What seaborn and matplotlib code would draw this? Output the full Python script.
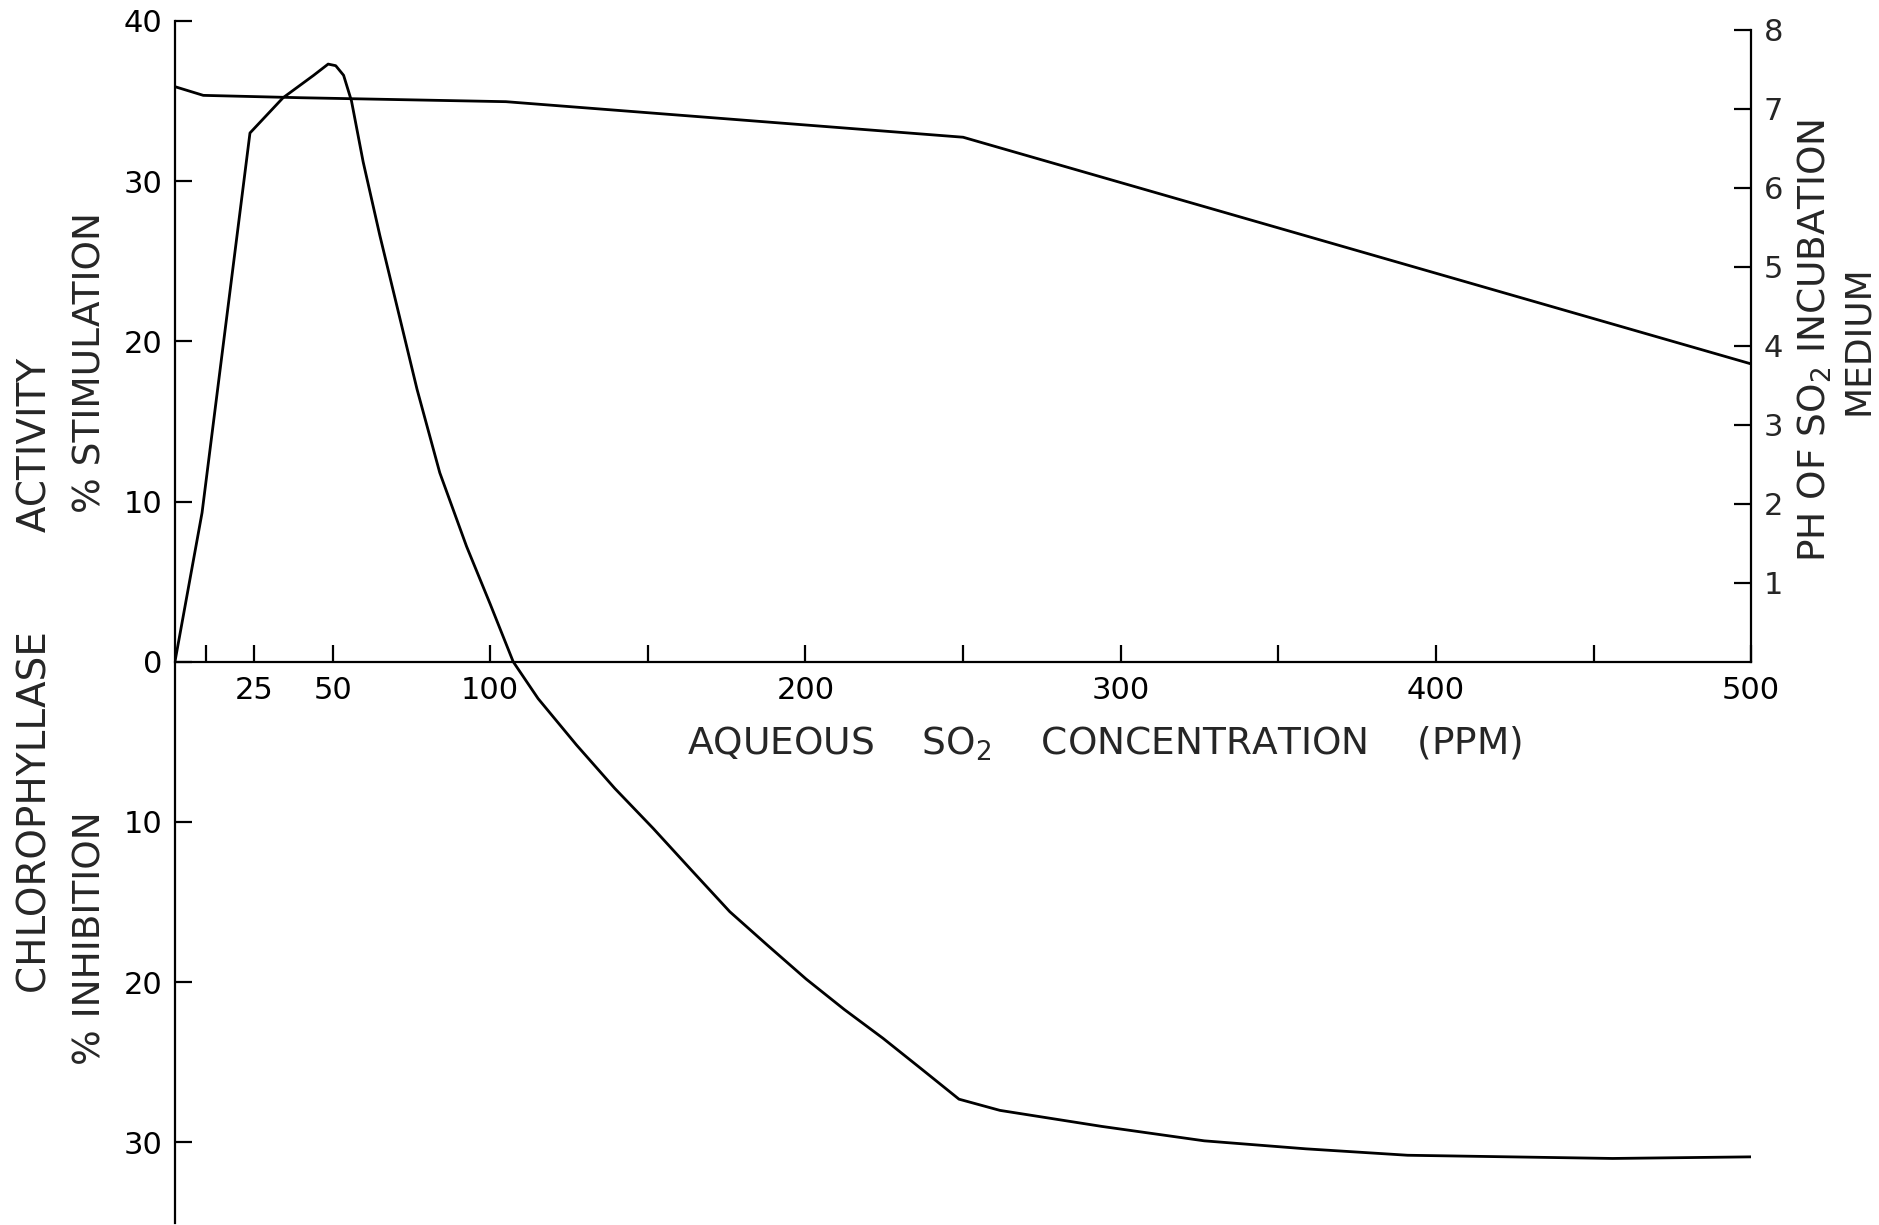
import matplotlib
matplotlib.use("Agg")
import matplotlib.pyplot as plt
import seaborn as sns
import pandas as pd

# ---- data ----
ppm_chl = [0, 8.6, 23.8, 34.3, 44, 48.6, 51, 53.5, 56, 59.7, 65, 71.4, 76.8, 84,
           92.5, 100, 107.3, 115.2, 127.4, 139.5, 151.7, 163.8, 176, 188, 200.2,
           212.3, 224.6, 236.7, 248.7, 261.7, 294, 326.5, 358.8, 391, 423.5, 456,
           500]
chl_activity = [0, 9.3, 33.0, 35.2, 36.6, 37.3, 37.2, 36.6, 35.0, 31.2, 26.6, 21.4,
                17.0, 11.8, 7.2, 3.6, 0, -2.3, -5.2, -7.9, -10.4, -13.0, -15.6,
                -17.7, -19.8, -21.7, -23.5, -25.4, -27.3, -28.0, -29.0, -29.9,
                -30.4, -30.8, -30.9, -31.0, -30.9]

ppm_ph = [0, 9, 40, 105, 250, 500]
ph_values = [7.28, 7.17, 7.14, 7.09, 6.64, 3.77]

x_ticks = [10, 25, 50, 100, 150, 200, 250, 300, 350, 400, 450]
x_labels = {25: "25", 50: "50", 100: "100", 200: "200", 300: "300", 400: "400"}
left_ticks = [-30, -20, -10, 0, 10, 20, 30, 40]
left_labels = ["30", "20", "10", "0", "10", "20", "30", "40"]
ph_ticks = [1, 2, 3, 4, 5, 6, 7, 8]

sns.set_style("ticks")
plt.rcParams["font.family"] = ["DejaVu Sans"]
plt.rcParams["mathtext.fontset"] = "dejavusans"

fig = plt.figure(figsize=(18.79, 12.25), dpi=100)
ax = fig.add_axes([0.0931, 0.002, 0.8389, 0.981])

df_chl = pd.DataFrame({"ppm": ppm_chl, "val": chl_activity})
df_ph = pd.DataFrame({"ppm": ppm_ph, "ph": ph_values})

sns.lineplot(data=df_chl, x="ppm", y="val", ax=ax, color="black", lw=2.0,
             sort=False, estimator=None)
ax.set_xlim(0, 500)
ax.set_ylim(-35, 40)

# spines
ax.spines["top"].set_visible(False)
ax.spines["right"].set_visible(False)
ax.spines["bottom"].set_position(("data", 0))
for s in ("left", "bottom"):
    ax.spines[s].set_linewidth(1.6)
    ax.spines[s].set_color("black")

ax.set_xticks(x_ticks + [500])
ax.set_xticklabels([x_labels.get(t, "") for t in x_ticks] + ["500"])
ax.set_yticks(left_ticks)
ax.set_yticklabels(left_labels)
ax.tick_params(axis="both", direction="in", length=12, width=1.6, color="black",
               labelsize=22, pad=9, labelcolor="black")
ax.tick_params(axis="x", pad=10)
ax.set_xlabel("")
ax.set_ylabel("")

# right axis: pH
k = 4.93
ax2 = ax.twinx()
sns.lineplot(data=df_ph, x="ppm", y="ph", ax=ax2, color="black", lw=2.0,
             sort=False, estimator=None)
ax2.set_ylim(-35 / k, 40 / k)
ax2.set_xlim(0, 500)
for s in ("top", "left", "bottom"):
    ax2.spines[s].set_visible(False)
ax2.spines["right"].set_bounds(0, 8)
ax2.spines["right"].set_linewidth(1.6)
ax2.spines["right"].set_color("black")
ax2.set_yticks(ph_ticks)
ax2.set_yticklabels([str(t) for t in ph_ticks])
ax2.tick_params(axis="y", direction="in", length=12, width=1.6, color="black",
                labelsize=22, pad=9)
ax2.set_ylabel("")
ax2.set_xlabel("")

# labels
fs = 27
fig.text(0.588, 0.393, "AQUEOUS    SO$_2$    CONCENTRATION    (PPM)", fontsize=fs,
         ha="center", va="center")
fig.text(0.019, 0.449, "CHLOROPHYLLASE        ACTIVITY", fontsize=28, rotation=90,
         ha="center", va="center")
fig.text(0.048, 0.704, "% STIMULATION", fontsize=fs, rotation=90,
         ha="center", va="center")
fig.text(0.048, 0.234, "% INHIBITION", fontsize=fs, rotation=90,
         ha="center", va="center")
fig.text(0.966, 0.722, "PH OF SO$_2$ INCUBATION", fontsize=fs, rotation=90,
         ha="center", va="center")
fig.text(0.989, 0.722, "MEDIUM", fontsize=26, rotation=90,
         ha="center", va="center")

fig.savefig("out.png", dpi=100, facecolor="white")
